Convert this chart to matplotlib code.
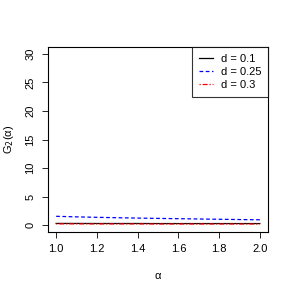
import matplotlib
matplotlib.use("Agg")
import matplotlib.pyplot as plt

# alpha grid and G2 values per d
alpha = [1.0, 1.1, 1.2, 1.3, 1.4, 1.5, 1.6, 1.7, 1.8, 1.9, 2.0]
g_d01 = [0.30, 0.30, 0.29, 0.29, 0.29, 0.28, 0.28, 0.28, 0.28, 0.28, 0.28]
g_d025 = [1.55, 1.45, 1.37, 1.30, 1.24, 1.18, 1.13, 1.08, 1.03, 0.98, 0.94]
g_d03 = [0.22, 0.22, 0.21, 0.21, 0.21, 0.20, 0.20, 0.20, 0.20, 0.20, 0.20]
labels = ["d = 0.1", "d = 0.25", "d = 0.3"]
yticks = [0, 5, 10, 15, 20, 25, 30]
xticks = [1.0, 1.2, 1.4, 1.6, 1.8, 2.0]

plt.rcParams["font.family"] = ["Liberation Sans", "DejaVu Sans"]

fig = plt.figure(figsize=(2.92, 2.92), dpi=100)
ax = fig.add_axes([48 / 292, 1 - 232 / 292, 220 / 292, 185 / 292])

ax.plot(alpha, g_d01, color="black", lw=0.9, linestyle="solid", label=labels[0])
ax.plot(alpha, g_d025, color="blue", lw=0.9, linestyle=(0, (3, 2)), label=labels[1])
ax.plot(alpha, g_d03, color="red", lw=0.9, linestyle=(0, (1, 1.5, 4, 1.5)), label=labels[2])

ax.set_xlim(0.96, 2.04)
ax.set_ylim(-1.2, 31.2)
ax.set_xticks(xticks)
ax.set_xticklabels([f"{v:.1f}" for v in xticks])
ax.set_yticks(yticks)
ax.set_yticklabels([str(v) for v in yticks])
ax.tick_params(labelsize=8, length=4, width=0.6, pad=5)
ax.tick_params(axis="y", labelrotation=90)
for t in ax.get_yticklabels():
    t.set_va("center")
for s in ax.spines.values():
    s.set_linewidth(0.8)

ax.set_xlabel("\u03b1", fontsize=8, labelpad=12)
ax.set_ylabel("G$_2$(\u03b1)", fontsize=8, labelpad=7)

leg = ax.legend(loc="upper right", fontsize=8, frameon=True, fancybox=False,
                edgecolor="black", handlelength=1.3, handletextpad=0.7,
                borderaxespad=0, labelspacing=0.3, borderpad=0.6)
leg.get_frame().set_linewidth(0.8)

fig.savefig("out.png", dpi=100)
